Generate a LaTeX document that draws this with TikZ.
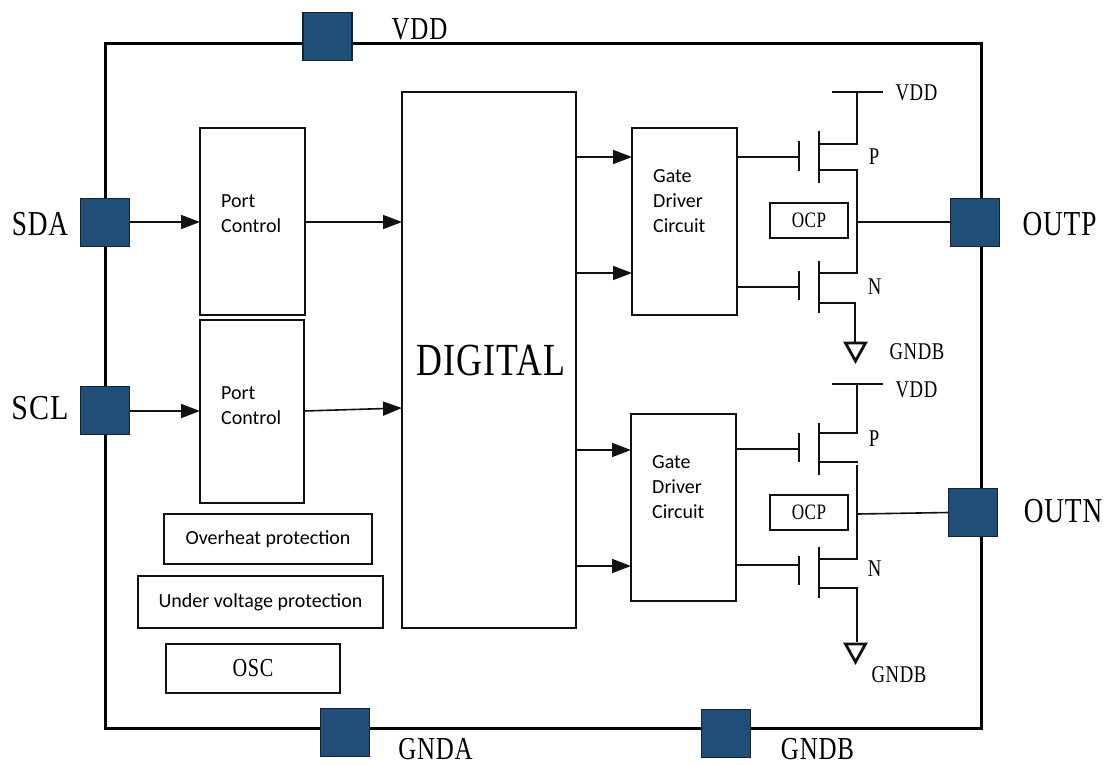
\documentclass[tikz,border=0pt]{standalone}
\usepackage{fontspec}
\usetikzlibrary{arrows.meta}
\setmainfont{Liberation Serif}
\newfontfamily\labfont[FakeStretch=0.78,LetterSpace=2.5]{Liberation Serif}
\newfontfamily\calfont{Carlito}
\definecolor{padblue}{HTML}{1F4E79}
\definecolor{inkc}{HTML}{111111}
\tikzset{
  boxn/.style={draw=inkc,line width=1.6pt,fill=white,inner sep=0pt,outer sep=0pt},
  padn/.style={draw=inkc!70!padblue,line width=1.2pt,fill=padblue,inner sep=0pt,outer sep=0pt,minimum width=49pt,minimum height=48pt},
  biglab/.style={font=\labfont\fontsize{35}{36}\selectfont,inner sep=0pt},
  midlab/.style={font=\labfont\fontsize{32}{33}\selectfont,inner sep=0pt},
  smalllab/.style={font=\labfont\fontsize{24}{26}\selectfont,inner sep=0pt},
  callab/.style={font=\calfont\fontsize{20}{25}\selectfont,inner sep=0pt,align=left,anchor=west},
  wire/.style={draw=inkc,line width=1.6pt},
  flow/.style={wire,-{Triangle[length=19pt,width=14pt]}},
  gnd/.style={draw=inkc,line width=2.8pt,fill=white,line join=miter},
}
\begin{document}
\begin{tikzpicture}[x=1pt,y=-1pt]
\useasboundingbox (0,0) rectangle (1105,765);
% chip outline
\node[draw=black,line width=3pt,inner sep=0pt,outer sep=0pt,minimum width=876pt,minimum height=684pt] (chip) at (543,386) {};
% pads
\node[padn] (padvdd) at (327.5,36.5) {};
\node[padn] (padsda) at (105,222.5) {};
\node[padn] (padscl) at (105,410.5) {};
\node[padn] (padoutp) at (975,222.5) {};
\node[padn] (padoutn) at (973,512.5) {};
\node[padn] (padgnda) at (345,732.5) {};
\node[padn] (padgndb) at (726,733.5) {};
% pad labels
\node[midlab] at (419.5,29) {VDD};
\node[biglab] at (40,224) {SDA};
\node[biglab] at (40,408) {\scalebox{1.1}[1]{SCL}};
\node[biglab] at (1059.5,224) {OUTP};
\node[biglab] at (1063,511) {OUTN};
\node[midlab] at (435.5,749) {GNDA};
\node[midlab] at (817.5,749) {GNDB};
% blocks
\node[boxn,minimum width=105pt,minimum height=187pt] (pc1) at (252.5,221.5) {};
\node[boxn,minimum width=104pt,minimum height=183pt] (pc2) at (252,411.5) {};
\node[boxn,minimum width=174pt,minimum height=536pt,font=\labfont\fontsize{46}{50}\selectfont] (dig) at (489,360) {\hspace*{4pt}DIGITAL};
\node[boxn,minimum width=105pt,minimum height=187pt] (gd1) at (684.5,221.5) {};
\node[boxn,minimum width=105pt,minimum height=187pt] (gd2) at (683.5,507.5) {};
\node[boxn,minimum width=208pt,minimum height=50pt,font=\calfont\fontsize{20}{24}\selectfont] (ovh) at (268,539) {\raisebox{1pt}{Overheat protection}};
\node[boxn,minimum width=245pt,minimum height=52pt,font=\calfont\fontsize{20}{24}\selectfont] (uvp) at (260.5,602) {\raisebox{2pt}{Under voltage protection}};
\node[boxn,minimum width=174pt,minimum height=49pt,font=\labfont\fontsize{26}{30}\selectfont] (osc) at (253,668.5) {OSC};
\node[boxn,minimum width=78pt,minimum height=35pt,font=\labfont\fontsize{22}{26}\selectfont] (ocp1) at (809,220.5) {OCP};
\node[boxn,minimum width=78pt,minimum height=35pt,font=\labfont\fontsize{22}{26}\selectfont] (ocp2) at (809,512.5) {OCP};
% block captions
\node[callab] at (221,213.5) {Port\\Control};
\node[callab] at (221,405.5) {Port\\Control};
\node[callab] at (653,201.5) {Gate\\Driver\\Circuit};
\node[callab] at (652,487) {Gate\\Driver\\Circuit};
% signal flow
\coordinate (s1) at (padsda.east |- 0,222);
\coordinate (s2) at (padscl.east |- 0,411);
\coordinate (d1) at (dig.west |- 0,222);
\coordinate (d2) at (dig.west |- 0,408);
\draw[flow] (s1) -- (pc1.west |- s1);
\draw[flow] (s2) -- (pc2.west |- s2);
\draw[flow] (pc1.east |- d1) -- (d1);
\draw[flow] (pc2.east |- s2) -- (d2);
\coordinate (g1a) at (gd1.west |- 0,157);
\coordinate (g1b) at (gd1.west |- 0,273);
\coordinate (g2a) at (gd2.west |- 0,450);
\coordinate (g2b) at (gd2.west |- 0,566);
\draw[flow] (dig.east |- g1a) -- (g1a);
\draw[flow] (dig.east |- g1b) -- (g1b);
\draw[flow] (dig.east |- g2a) -- (g2a);
\draw[flow] (dig.east |- g2b) -- (g2b);
% upper output stage
\coordinate (tpg1) at (799,157);
\coordinate (tng1) at (799,287);
\coordinate (out1) at (857,222);
\draw[wire] (gd1.east |- tpg1) -- (tpg1);
\draw[wire] (gd1.east |- tng1) -- (tng1);
\draw[wire] (799,141) -- (799,171);
\draw[wire] (819,131) -- (819,183);
\draw[wire] (799,271) -- (799,300);
\draw[wire] (819,261) -- (819,313);
\draw[wire] (832,92) -- (883,92);
\draw[wire] (857,92) |- (819,144);
\draw[wire] (819,170) -| (857,273) -- (819,273);
\draw[wire] (819,303) -| (855,342);
\draw[wire] (out1) -- (padoutp.west |- out1);
\draw[gnd] (845.5,343) -- (865.5,343) -- (855.5,361) -- cycle;
\node[smalllab] at (916.5,93) {VDD};
\node[smalllab] at (874,157) {P};
\node[smalllab] at (874.5,287) {N};
\node[smalllab] at (917,352) {GNDB};
% lower output stage
\coordinate (tpg2) at (799,449);
\coordinate (tng2) at (799,565);
\coordinate (out2) at (858,514);
\draw[wire] (gd2.east |- tpg2) -- (tpg2);
\draw[wire] (gd2.east |- tng2) -- (tng2);
\draw[wire] (799,433) -- (799,462);
\draw[wire] (819,423) -- (819,475);
\draw[wire] (799,556) -- (799,585);
\draw[wire] (819,547) -- (819,598);
\draw[wire] (832,384) -- (883,384);
\draw[wire] (857,384) |- (819,433);
\draw[wire] (819,462) -- (857.5,462);
\draw[wire] (857,465) |- (819,559);
\draw[wire] (819,588) -| (857,642);
\draw[wire] (out2) -- (padoutn.west);
\draw[gnd] (845.5,644) -- (865.5,644) -- (855.5,662) -- cycle;
\node[smalllab] at (916.5,390) {VDD};
\node[smalllab] at (874,439) {P};
\node[smalllab] at (874.5,569) {N};
\node[smalllab] at (899,675) {GNDB};
\end{tikzpicture}
\end{document}
